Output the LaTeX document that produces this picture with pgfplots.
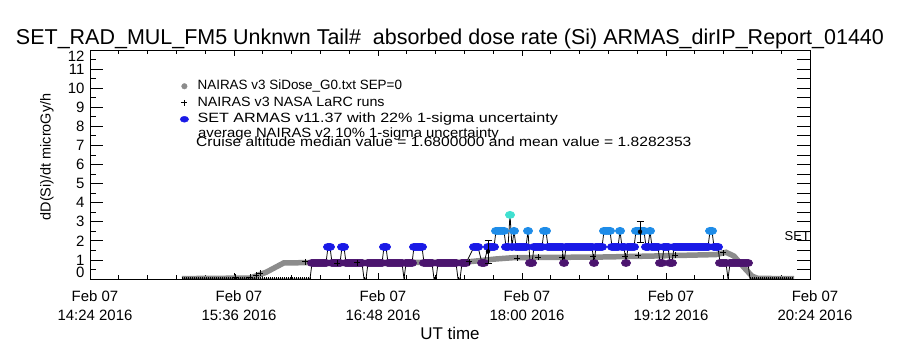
\documentclass[border=0pt]{standalone}
\usepackage{graphicx}
\usepackage{fontspec}
\setmainfont{Liberation Sans}
\usepackage{pgfplots}
\pgfplotsset{compat=1.18}
\definecolor{armaspurple}{RGB}{75,20,110}
\definecolor{armasblue}{RGB}{25,25,230}
\definecolor{armaslight}{RGB}{30,140,232}
\definecolor{armascyan}{RGB}{64,224,208}
\definecolor{naigray}{RGB}{140,140,140}
\begin{document}
\begin{tikzpicture}[x=1bp,y=1bp]
\useasboundingbox (0,0) rectangle (900,350);
\node[font=\fontsize{20}{24}\selectfont] at (450,311) {\resizebox{868bp}{!}{SET\_RAD\_MUL\_FM5 Unknwn Tail\#\ \ absorbed dose rate (Si) ARMAS\_dirIP\_Report\_01440}};
\node[rotate=90, font=\fontsize{14.5}{14.5}\selectfont] at (47,193) {dD(Si)/dt microGy/h};
\node[font=\fontsize{17}{17}\selectfont] at (450,17) {UT time};
% left y ticks
\begin{axis}[at={(90bp,71bp)}, anchor=south west, scale only axis, width=720bp, height=229bp,
  xmin=0, xmax=360, ymin=0, ymax=12, xtick=\empty, ytick pos=left,
  ytick={0,...,12}, minor y tick num=1, yticklabels={},
  major tick length=13bp, minor tick length=6bp, tick align=inside,
  tick style={black, line width=0.8bp}, axis line style={draw=none}]
\end{axis}
% right y ticks
\begin{axis}[at={(90bp,71bp)}, anchor=south west, scale only axis, width=720bp, height=229bp,
  xmin=0, xmax=360, ymin=0, ymax=12, xtick=\empty, ytick pos=right,
  ytick={0,0.5,...,12}, yticklabels={},
  major tick length=13bp, tick align=inside,
  tick style={black, line width=0.8bp}, axis line style={draw=none}]
\end{axis}
\begin{axis}[at={(90bp,71bp)}, anchor=south west, scale only axis, width=720bp, height=229bp,
  xmin=0, xmax=360, ymin=0, ymax=12,
  xtick={0,72,144,216,288,360},
  xticklabels={{Feb 07\\14:24 2016},{Feb 07\\15:36 2016},{Feb 07\\16:48 2016},{Feb 07\\18:00 2016},{Feb 07\\19:12 2016},{Feb 07\\20:24 2016}},
  xticklabel style={align=center, font=\fontsize{15}{19}\selectfont, yshift=-8bp, xshift=5bp},
  minor x tick num=4,
  major tick length=6bp, minor tick length=4bp, tick align=inside,
  ytick={0,...,12}, ytick style={draw=none},
  yticklabel style={font=\fontsize{15}{15}\selectfont, xshift=-2bp},
  yticklabel={\ifnum\ticknum=0 \raisebox{7bp}[\height][\depth]{\pgfmathprintnumber{\tick}}\else\ifnum\ticknum=12 \raisebox{-6bp}[\height][\depth]{\pgfmathprintnumber{\tick}}\else\pgfmathprintnumber{\tick}\fi\fi},
  /pgf/number format/assume math mode=true,
  axis line style={black, line width=0.8bp},
  tick style={black, line width=0.8bp},
  clip marker paths=true,
  legend style={at={(axis cs:45,10.49)}, anchor=north west, draw=none, fill=none,
    font=\fontsize{13.5}{16}\selectfont, row sep=2bp, inner sep=0pt,
    nodes={inner sep=1bp, text height=9.5bp, text depth=3bp},
    /tikz/every odd column/.append style={column sep=8bp}},
  legend cell align=left,
]
\addlegendimage{only marks, mark=*, mark size=2.8bp, color=naigray}
\addlegendentry{NAIRAS v3 SiDose\_G0.txt SEP=0}
\addlegendimage{only marks, mark=+, mark size=3bp, black, line width=0.8bp}
\addlegendentry{\scalebox{1.06}[1]{NAIRAS v3 NASA LaRC runs}}
\addlegendimage{only marks, mark=*, mark size=3bp, color=armasblue, mark options={xscale=1.4}}
\addlegendentry{\scalebox{1.2}[1]{SET ARMAS v11.37 with 22\% 1-sigma uncertainty}}

% NAIRAS v3 SiDose_G0 (thick gray line)
\addplot[forget plot, color=naigray, line width=5.5bp] coordinates {
(46,0.02) (80,0.05) (88,0.35) (97,0.85) (185,0.87) (191,0.92) (203,1.05) (212,1.12)
(255,1.15) (280,1.2) (313,1.28) (318,1.4) (322,1.2) (327,0.6) (331,0.15) (334,0.03) (352,0.02)};

% SET ARMAS (quantized dose rate, coloured by level, black connecting line)
\addplot[forget plot, black, line width=0.8bp, scatter, scatter src=explicit symbolic,
  scatter/classes={
    z={mark=+, mark size=2bp, black},
    p={mark=*, mark size=3.5bp, xscale=1.3, fill=armaspurple, draw=armaspurple},
    b={mark=*, mark size=3.5bp, xscale=1.3, fill=armasblue, draw=armasblue},
    l={mark=*, mark size=3.5bp, xscale=1.3, fill=armaslight, draw=armaslight},
    c={mark=*, mark size=3.5bp, xscale=1.3, fill=armascyan, draw=armascyan}}]
table[row sep=\\, meta=c] {
m v c\\
46 0 z\\47 0 z\\48 0 z\\49 0 z\\50 0 z\\51 0 z\\52 0 z\\53 0 z\\54 0 z\\55 0 z\\
56 0 z\\57 0 z\\58 0 z\\59 0 z\\60 0 z\\61 0 z\\62 0 z\\63 0 z\\64 0 z\\65 0 z\\
66 0 z\\67 0 z\\68 0 z\\69 0 z\\70 0 z\\71 0 z\\72 0 z\\73 0 z\\74 0 z\\75 0 z\\
76 0 z\\77 0 z\\78 0 z\\79 0 z\\80 0 z\\81 0 z\\82 0 z\\83 0 z\\84 0 z\\85 0 z\\
86 0 z\\87 0 z\\88 0 z\\89 0 z\\90 0 z\\91 0 z\\92 0 z\\93 0 z\\94 0 z\\95 0 z\\
96 0 z\\97 0 z\\98 0 z\\99 0 z\\100 0 z\\101 0 z\\102 0 z\\103 0 z\\104 0 z\\105 0 z\\
106 0 z\\107 0 z\\108 0 z\\109 0 z\\110 0 z\\
111 0.84 p\\112 0.84 p\\113 0.84 p\\114 0.84 p\\115 0.84 p\\116 0.84 p\\117 0.84 p\\118 0.84 p\\
119 1.68 b\\120 1.68 b\\
121 0.84 p\\122 0.84 p\\123 0.84 p\\124 0.84 p\\125 0.84 p\\
126 1.68 b\\127 1.68 b\\
128 0.84 p\\129 0.84 p\\130 0.84 p\\131 0.84 p\\132 0.84 p\\133 0.84 p\\134 0.84 p\\135 0.84 p\\136 0.84 p\\
137 0 z\\138 0 z\\
139 0.84 p\\140 0.84 p\\141 0.84 p\\142 0.84 p\\143 0.84 p\\144 0.84 p\\145 0.84 p\\146 0.84 p\\
147 1.68 b\\148 1.68 b\\
149 0.84 p\\150 0.84 p\\151 0.84 p\\152 0.84 p\\153 0.84 p\\154 0.84 p\\155 0.84 p\\156 0.84 p\\
157 0 z\\
158 0.84 p\\159 0.84 p\\160 0.84 p\\161 0.84 p\\
162 1.68 b\\163 1.68 b\\164 1.68 b\\165 1.68 b\\166 1.68 b\\
167 0.84 p\\168 0.84 p\\169 0.84 p\\170 0.84 p\\171 0.84 p\\
172 0 z\\173 0 z\\
174 0.84 p\\175 0.84 p\\176 0.84 p\\177 0.84 p\\178 0.84 p\\179 0.84 p\\180 0.84 p\\181 0.84 p\\182 0.84 p\\183 0.84 p\\
184 0 z\\185 0 z\\
186 0.84 p\\187 0.84 p\\188 0.84 p\\
192 1.68 b\\193 1.68 b\\194 1.68 b\\
196 0.84 p\\197 0.84 p\\
199 1.68 b\\200 1.68 b\\201 1.68 b\\202 1.68 b\\
203 2.52 l\\204 2.52 l\\205 2.52 l\\206 2.52 l\\207 2.52 l\\
208 1.68 b\\209 1.68 b\\
210 3.36 c\\
211 1.68 b\\
212 2.52 l\\
213 1.68 b\\214 1.68 b\\215 1.68 b\\216 1.68 b\\217 1.68 b\\218 1.68 b\\
219 2.52 l\\
220 0.84 p\\221 0.84 p\\
222 1.68 b\\223 1.68 b\\224 1.68 b\\225 1.68 b\\226 1.68 b\\
227 2.52 l\\228 2.52 l\\
229 1.68 b\\230 1.68 b\\231 1.68 b\\232 1.68 b\\233 1.68 b\\234 1.68 b\\235 1.68 b\\236 1.68 b\\
237 0.84 p\\
238 1.68 b\\239 1.68 b\\240 1.68 b\\241 1.68 b\\242 1.68 b\\243 1.68 b\\244 1.68 b\\
245 1.68 b\\246 1.68 b\\247 1.68 b\\248 1.68 b\\249 1.68 b\\250 1.68 b\\251 1.68 b\\
252 0.84 p\\
253 1.68 b\\254 1.68 b\\255 1.68 b\\256 1.68 b\\
257 2.52 l\\258 2.52 l\\259 2.52 l\\260 2.52 l\\
261 1.68 b\\262 1.68 b\\263 1.68 b\\264 1.68 b\\
265 2.52 l\\
266 1.68 b\\267 1.68 b\\
268 0.84 p\\
269 1.68 b\\270 1.68 b\\271 1.68 b\\272 1.68 b\\
273 2.52 l\\274 2.52 l\\275 2.52 l\\276 2.52 l\\277 2.52 l\\
278 1.68 b\\279 1.68 b\\
280 2.52 l\\
281 1.68 b\\282 1.68 b\\283 1.68 b\\284 1.68 b\\
285 0.84 p\\286 0.84 p\\
287 1.68 b\\288 1.68 b\\289 1.68 b\\
290 0.84 p\\291 0.84 p\\
292 1.68 b\\293 1.68 b\\294 1.68 b\\295 1.68 b\\296 1.68 b\\297 1.68 b\\298 1.68 b\\299 1.68 b\\300 1.68 b\\
301 1.68 b\\302 1.68 b\\303 1.68 b\\304 1.68 b\\305 1.68 b\\306 1.68 b\\307 1.68 b\\308 1.68 b\\309 1.68 b\\
310 2.52 l\\311 2.52 l\\
312 1.68 b\\313 1.68 b\\314 1.68 b\\
315 0.84 p\\316 0.84 p\\317 0.84 p\\318 0.84 p\\
319 0 z\\
320 0.84 p\\321 0.84 p\\322 0.84 p\\323 0.84 p\\324 0.84 p\\325 0.84 p\\326 0.84 p\\327 0.84 p\\328 0.84 p\\329 0.84 p\\
330 0 z\\331 0 z\\332 0 z\\333 0 z\\334 0 z\\335 0 z\\336 0 z\\337 0 z\\338 0 z\\339 0 z\\340 0 z\\
341 0 z\\342 0 z\\343 0 z\\344 0 z\\345 0 z\\346 0 z\\347 0 z\\348 0 z\\349 0 z\\350 0 z\\351 0 z\\
};

% NAIRAS v3 NASA LaRC runs
\addplot[forget plot, only marks, mark=+, mark size=3bp, black, line width=0.8bp] coordinates {
(72.5,0.08) (80,0.1) (83,0.2) (85,0.3) (107.5,0.9) (123.5,0.84) (133.5,0.86) (189.5,0.9)
(213.5,1.1) (224,1.15) (236,1.15) (251.5,1.17) (267.5,1.18) (274,1.26) (292.5,1.25) (316.5,1.37)};

% average NAIRAS v2 with 10% 1-sigma uncertainty
\addplot[forget plot, only marks, mark=none, black,
  error bars/.cd, y dir=both, y explicit,
  error bar style={line width=0.8bp},
  error mark options={rotate=90, mark size=3.5bp, black, line width=0.8bp}]
coordinates {(199,1.44) +- (0,0.6) (275,2.47) +- (0,0.53)};

\node[anchor=base west, font=\fontsize{13.5}{16}\selectfont, inner sep=0pt] at (axis cs:54,7.4) {\scalebox{1.105}[1]{average NAIRAS v2 10\% 1-sigma uncertainty}};
\node[anchor=base west, font=\fontsize{13.5}{16}\selectfont, inner sep=0pt] at (axis cs:53,6.95) {\scalebox{1.16}[1]{Cruise altitude median value = 1.6800000 and mean value = 1.8282353}};
\node[anchor=east, font=\fontsize{13}{13}\selectfont, inner sep=0pt] at (axis cs:360,2.26) {SET};
\end{axis}
\end{tikzpicture}
\end{document}
